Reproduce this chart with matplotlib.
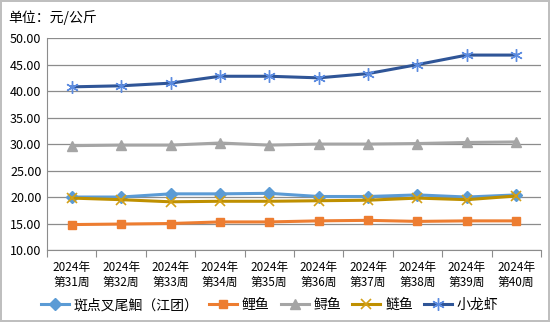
import matplotlib
matplotlib.use("Agg")
import matplotlib.pyplot as plt
from matplotlib.ticker import FixedLocator, FormatStrFormatter

plt.rcParams['font.family'] = ['Noto Sans CJK SC', 'DejaVu Sans']

weeks = ['2024年\n第%d周' % w for w in range(31, 41)]

bandian = [20.0, 20.0, 20.6, 20.6, 20.7, 20.1, 20.1, 20.4, 20.0, 20.4]
liyu = [14.8, 14.9, 15.0, 15.3, 15.3, 15.5, 15.6, 15.4, 15.5, 15.5]
xunyu = [29.7, 29.8, 29.8, 30.2, 29.8, 30.0, 30.0, 30.1, 30.3, 30.4]
lianyu = [19.8, 19.5, 19.1, 19.2, 19.2, 19.3, 19.4, 19.8, 19.5, 20.2]
xiaolongxia = [40.8, 41.0, 41.5, 42.8, 42.8, 42.5, 43.3, 45.0, 46.8, 46.8]

fig = plt.figure(figsize=(5.5, 3.22), dpi=100)
fig.patch.set_edgecolor('#BFBFBF')
fig.patch.set_linewidth(1.5)
ax = fig.add_axes([0.0855, 0.2236, 0.898, 0.658])

x = range(len(weeks))
ax.plot(x, bandian, color='#5B9BD5', lw=2.2, marker='D', ms=6, label='斑点叉尾鮰（江团）', zorder=3)
ax.plot(x, liyu, color='#ED7D31', lw=2.2, marker='s', ms=6, label='鲤鱼', zorder=3)
ax.plot(x, xunyu, color='#A5A5A5', lw=2.2, marker='^', ms=7, label='鲟鱼', zorder=3)
ax.plot(x, lianyu, color='#BF9000', lw=2.2, marker='x', ms=7, mew=1.2, mec='#D4A017', label='鲢鱼', zorder=3)
ax.plot(x, xiaolongxia, color='#2F5597', lw=2.2, marker=(6, 2, 0), ms=9, mew=1.0, mec='#5B8BE0', label='小龙虾', zorder=3)

ax.set_xlim(-0.5, len(weeks) - 0.5)
ax.set_ylim(10, 50)
ax.set_yticks(range(10, 51, 5))
ax.yaxis.set_major_formatter(FormatStrFormatter('%.2f'))
ax.grid(axis='y', color='#8C8C8C', lw=0.9)
ax.set_axisbelow(True)

ax.xaxis.set_major_locator(FixedLocator([i - 0.5 for i in range(len(weeks) + 1)]))
ax.xaxis.set_minor_locator(FixedLocator(list(x)))
ax.set_xticklabels([''] * (len(weeks) + 1))
ax.set_xticklabels(weeks, minor=True)
ax.tick_params(axis='x', which='major', length=5, color='#8C8C8C', direction='out')
ax.tick_params(axis='x', which='minor', length=0, labelsize=8.5, pad=8)
ax.tick_params(axis='y', length=0, labelsize=9, pad=4)

for s in ['top', 'right']:
    ax.spines[s].set_visible(False)
ax.spines['left'].set_color('#8C8C8C')
ax.spines['bottom'].set_color('#8C8C8C')

fig.text(0.015, 0.945, '单位：元/公斤', fontsize=10, ha='left', va='center')

fig.legend(loc='center', bbox_to_anchor=(0.49, 0.052), ncol=5, frameon=False,
           fontsize=10, handlelength=2.0, columnspacing=0.8, handletextpad=0.35)

fig.savefig('out.png', dpi=100, edgecolor=fig.get_edgecolor())
